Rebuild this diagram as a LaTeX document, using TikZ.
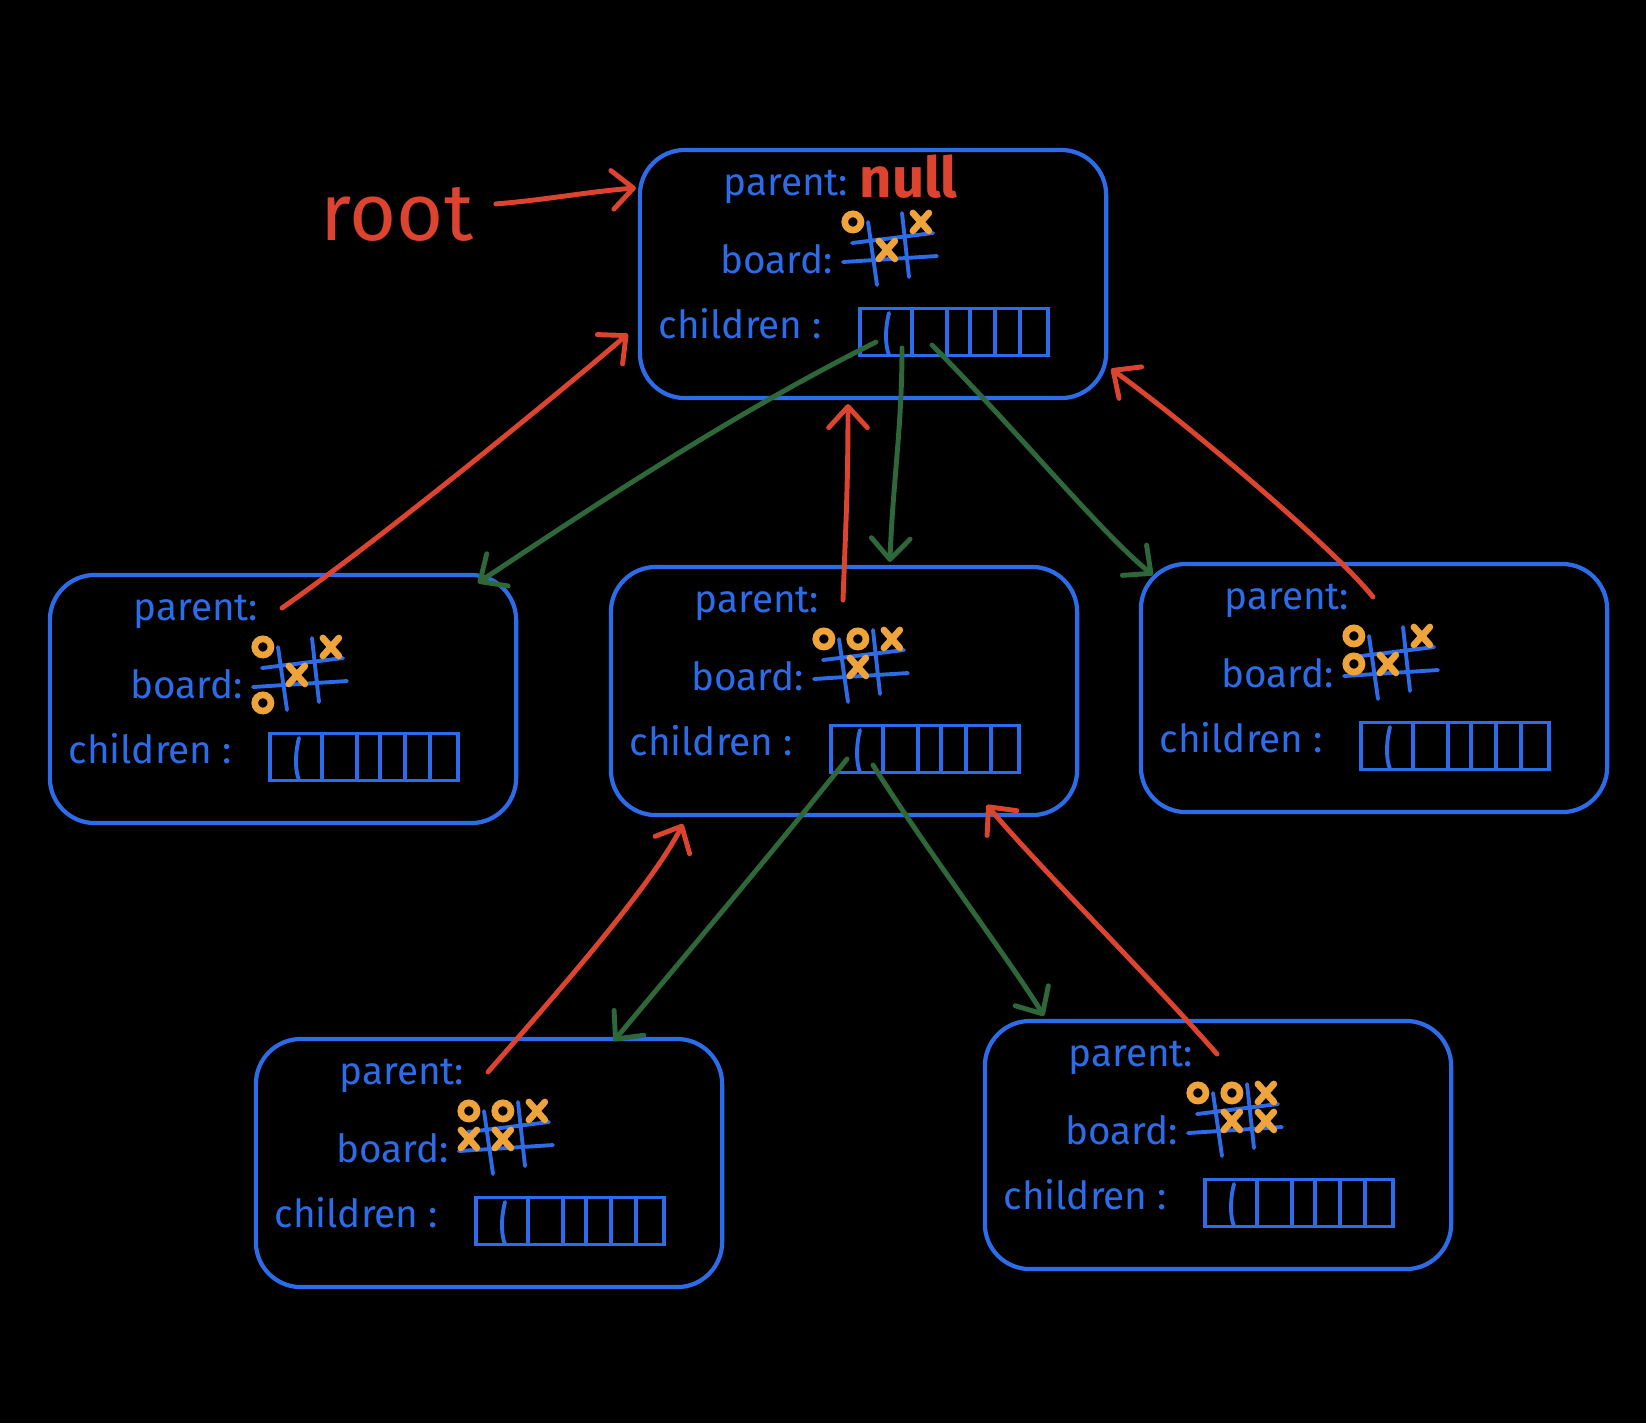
\documentclass[tikz,border=0pt]{standalone}
\usepackage{fontspec}
\setmainfont{Fira Sans}
\usepackage{tikz}
\usetikzlibrary{arrows.meta}
\definecolor{tnblue}{RGB}{45,108,232}
\definecolor{tnred}{RGB}{221,68,48}
\definecolor{tngreen}{RGB}{46,104,58}
\definecolor{tnorange}{RGB}{238,164,58}
\tikzstyle{nodebox} = [rectangle, rounded corners=0.45cm, minimum width=4.66cm, minimum height=2.48cm, draw=tnblue, line width=1.2pt, outer sep=0pt]
\tikzstyle{lbl} = [anchor=base west, inner sep=0pt, text=tnblue, font=\fontsize{11}{13}\selectfont]
\tikzstyle{grid} = [draw=tnblue, line width=1.1pt, line cap=round]
\tikzstyle{arr} = [rectangle, minimum width=1.88cm, minimum height=0.47cm, draw=tnblue, line width=1.1pt]
\tikzstyle{omark} = [draw=tnorange, line width=1.9pt]
\tikzstyle{xmark} = [draw=tnorange, line width=1.9pt, line cap=round]
\tikzstyle{redtxt} = [anchor=base west, inner sep=0pt, text=tnred]
\tikzstyle{parentarrow} = [line width=1.4pt, line cap=round, color=tnred, -{Straight Barb[round,length=6pt,width=11pt]}]
\tikzstyle{childarrow} = [line width=1.4pt, line cap=round, color=tngreen, -{Straight Barb[round,length=6pt,width=11pt]}]
\begin{document}
\begin{tikzpicture}[x=0.01cm, y=-0.01cm]
\useasboundingbox (0,0) rectangle (1646,1423);
\fill[black] (0,0) rectangle (1646,1423);

% Tree nodes
\foreach \n/\x/\y in {root/640/150, left/50/575, mid/611/567, right/1141/564, bl/256/1039, br/985/1021}{
\begin{scope}[shift={(\x,\y)}]
\node[nodebox] (\n) at (233,124) {};
\node[lbl] (\n-par) at (83,45) {parent:};
\node[lbl] (\n-brd) at (80,123) {board:};
\node[lbl] (\n-chl) at (18,188) {children :};
% board grid
\draw[grid] (212,93) -- (293,83) (203,112) -- (297,106) (228,72) -- (237,135) (262,63) -- (269,127);
% children array
\node[arr] (\n-arr) at (314,182) {};
\draw[grid] (249,163) .. controls (245,178) and (245,196) .. (249,205);
\foreach \d in {272,307,330,355,380}
  \draw[grid] (\d,160) -- (\d,205);
\coordinate (\n-c1) at (236,192);
\coordinate (\n-c2) at (262,198);
\coordinate (\n-c3) at (292,195);
\coordinate (\n-ptr) at (232,33);
\end{scope}
}

% Board marks
\foreach \n/\c/\r in {root/0/0, left/0/0, left/0/2, mid/0/0, mid/1/0, right/0/0, right/0/1, bl/0/0, bl/1/0, br/0/0, br/1/0}
  \draw[omark] ([shift={({213+34*\c},{72+28*\r})}]\n.north west) circle (2.3pt);
\foreach \n/\c/\r in {root/2/0, root/1/1, left/2/0, left/1/1, mid/2/0, mid/1/1, right/2/0, right/1/1, bl/2/0, bl/0/1, bl/1/1, br/2/0, br/1/1, br/2/1}
  \draw[xmark] ([shift={({213+34*\c},{72+28*\r})}]\n.north west) +(-8,-9) -- +(8,9) +(-8,9) -- +(8,-9);

% Root label and null
\node[redtxt, font=\fontsize{23}{26}\selectfont] (rootlbl) at (320,240) {root};
\node[redtxt, font=\fontsize{16}{18}\selectfont\bfseries] (nullval) at ([shift={(219,48)}]root.north west) {null};

% Parent pointers
\draw[parentarrow] ([shift={(22,-10)}]rootlbl.east) .. controls +(50,-4) and +(-50,4) .. ([shift={(-4,38)}]root.north west);
\draw[parentarrow] (left-ptr) .. controls +(100,-70) and +(-70,60) .. ([shift={(-12,184)}]root.north west);
\draw[parentarrow] (mid-ptr) .. controls +(3,-80) and +(0,80) .. ([shift={(-25,6)}]root.south);
\draw[parentarrow] (right-ptr) .. controls +(-40,-50) and +(70,50) .. ([shift={(5,219)}]root.north east);
\draw[parentarrow] (bl-ptr) .. controls +(70,-80) and +(-30,60) .. ([shift={(72,257)}]mid.north west);
\draw[parentarrow] (br-ptr) .. controls +(-70,-80) and +(50,60) .. ([shift={(376,238)}]mid.north west);

% Children pointers
\draw[childarrow] (root-c1) .. controls +(-140,70) and +(120,-80) .. ([shift={(428,8)}]left.north west);
\draw[childarrow] (root-c2) .. controls +(0,80) and +(3,-80) .. ([shift={(279,-5)}]mid.north west);
\draw[childarrow] (root-c3) .. controls +(80,80) and +(-50,-40) .. ([shift={(12,11)}]right.north west);
\draw[childarrow] (mid-c1) .. controls +(-80,100) and +(50,-60) .. ([shift={(358,2)}]bl.north west);
\draw[childarrow] (mid-c2) .. controls +(50,80) and +(-30,-50) .. ([shift={(59,-5)}]br.north west);
\end{tikzpicture}
\end{document}
